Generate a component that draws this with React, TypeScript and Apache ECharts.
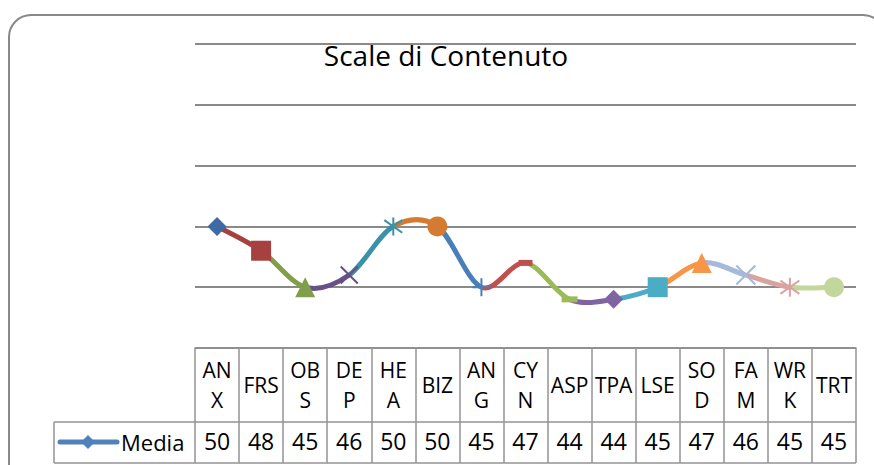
import React, { useEffect, useRef } from 'react';
import * as echarts from 'echarts';

// ---- data ----
const categories = ['ANX', 'FRS', 'OBS', 'DEP', 'HEA', 'BIZ', 'ANG', 'CYN', 'ASP', 'TPA', 'LSE', 'SOD', 'FAM', 'WRK', 'TRT'];
const headerLabels = ['AN\nX', 'FRS', 'OB\nS', 'DE\nP', 'HE\nA', 'BIZ', 'AN\nG', 'CY\nN', 'ASP', 'TPA', 'LSE', 'SO\nD', 'FA\nM', 'WR\nK', 'TRT'];
const media = [50, 48, 45, 46, 50, 50, 45, 47, 44, 44, 45, 47, 46, 45, 45];
const seriesName = 'Media';
const titleText = 'Scale di Contenuto';
const yMin = 40;
const yMax = 65;
const yStep = 5;

// ---- styles ----
const pointColors = [
  '#3E6BA5', '#A5423F', '#819F4A', '#674F88', '#3A91A8', '#D57B31', '#4A7EBB', '#C0504D',
  '#9BBB59', '#8064A2', '#4BACC6', '#F79646', '#A7B9DA', '#D9A3A1', '#C3D69B',
];
const X_PATH = 'path://M0,0L10,10M10,0L0,10';
const STAR_PATH = 'path://M5,0L5,10M0.8,1.5L9.2,8.5M9.2,1.5L0.8,8.5';
const PLUS_PATH = 'path://M5,0L5,10M0,5L10,5';
const markerStyles: { symbol: string; size: number | number[]; stroke?: boolean }[] = [
  { symbol: 'diamond', size: [19, 19] },
  { symbol: 'rect', size: [20, 20] },
  { symbol: 'triangle', size: [20, 20] },
  { symbol: X_PATH, size: [17, 17], stroke: true },
  { symbol: STAR_PATH, size: [18, 18], stroke: true },
  { symbol: 'circle', size: 20 },
  { symbol: PLUS_PATH, size: [18, 18], stroke: true },
  { symbol: 'rect', size: [14, 6] },
  { symbol: 'rect', size: [16, 6] },
  { symbol: 'diamond', size: [19, 19] },
  { symbol: 'rect', size: [20, 20] },
  { symbol: 'triangle', size: [20, 20] },
  { symbol: X_PATH, size: [19, 19], stroke: true },
  { symbol: STAR_PATH, size: [19, 19], stroke: true },
  { symbol: 'circle', size: 20 },
];

const FONT = '"Open Sans", sans-serif';
const GRID_COLOR = '#8a8a8a';
const TABLE_COLOR = '#939393';

export default function App() {
  const ref = useRef<HTMLDivElement>(null);

  useEffect(() => {
    const chart = echarts.init(ref.current!, null, { renderer: 'svg' });
    const n = media.length;

    chart.setOption({
      animation: false,
      backgroundColor: '#ffffff',
      grid: { left: 195, right: 18, top: 44, bottom: 117 },
      xAxis: [
        {
          type: 'category',
          data: headerLabels,
          boundaryGap: true,
          axisLine: { show: true, lineStyle: { color: TABLE_COLOR, width: 1.5 } },
          axisTick: { show: true, length: 115, lineStyle: { color: TABLE_COLOR, width: 1.5 } },
          axisLabel: {
            interval: 0,
            margin: 37,
            verticalAlign: 'middle',
            lineHeight: 30,
            fontSize: 21,
            fontFamily: FONT,
            color: '#000',
          },
          splitLine: { show: false },
        },
        {
          type: 'category',
          position: 'bottom',
          offset: 93,
          data: media.map(String),
          boundaryGap: true,
          axisLine: { show: false },
          axisTick: { show: false },
          axisLabel: {
            interval: 0,
            margin: 0,
            verticalAlign: 'middle',
            fontSize: 23,
            fontFamily: FONT,
            color: '#000',
          },
          splitLine: { show: false },
        },
      ],
      yAxis: {
        type: 'value',
        min: yMin,
        max: yMax,
        interval: yStep,
        axisLine: { show: false },
        axisTick: { show: false },
        axisLabel: { show: false },
        splitLine: { show: true, lineStyle: { color: GRID_COLOR, width: 2 } },
      },
      series: [
        {
          type: 'custom',
          name: seriesName,
          xAxisIndex: 0,
          yAxisIndex: 0,
          encode: { x: 0, y: 1 },
          data: media.map((v, i) => [i, v]),
          z: 2,
          renderItem: (params: any, api: any) => {
            const i = params.dataIndex;
            if (i === 0) return null;
            const pt = (k: number) => {
              const c = Math.max(0, Math.min(n - 1, k));
              return api.coord([c, media[c]]);
            };
            const p0 = pt(i - 2);
            const p1 = pt(i - 1);
            const p2 = pt(i);
            const p3 = pt(i + 1);
            return {
              type: 'bezierCurve',
              shape: {
                x1: p1[0], y1: p1[1], x2: p2[0], y2: p2[1],
                cpx1: p1[0] + (p2[0] - p0[0]) / 6,
                cpy1: p1[1] + (p2[1] - p0[1]) / 6,
                cpx2: p2[0] - (p3[0] - p1[0]) / 6,
                cpy2: p2[1] - (p3[1] - p1[1]) / 6,
              },
              style: { stroke: pointColors[i], lineWidth: 5, fill: 'none', lineCap: 'butt' },
            };
          },
        },
        {
          type: 'scatter',
          name: seriesName,
          xAxisIndex: 0,
          yAxisIndex: 0,
          z: 3,
          data: media.map((v, i) => {
            const m = markerStyles[i];
            return {
              value: [i, v],
              symbol: m.symbol,
              symbolSize: m.size,
              itemStyle: {
                color: pointColors[i],
                borderColor: pointColors[i],
                borderWidth: m.stroke ? 2 : 0,
                opacity: 1,
              },
            };
          }),
        },
      ],
      graphic: [
        {
          type: 'rect',
          shape: { x: 9, y: 15, width: 876, height: 490, r: 22 },
          style: { fill: 'none', stroke: '#888888', lineWidth: 2 },
          z: 0,
        },
        {
          type: 'text',
          x: 446,
          y: 55,
          style: { text: titleText, fontSize: 28, fontFamily: FONT, fill: '#000', align: 'center', verticalAlign: 'middle' },
        },
        { type: 'line', shape: { x1: 54, y1: 422, x2: 856, y2: 422 }, style: { stroke: TABLE_COLOR, lineWidth: 1.5 } },
        { type: 'line', shape: { x1: 54, y1: 463, x2: 856, y2: 463 }, style: { stroke: TABLE_COLOR, lineWidth: 1.5 } },
        { type: 'line', shape: { x1: 54, y1: 422, x2: 54, y2: 463 }, style: { stroke: TABLE_COLOR, lineWidth: 1.5 } },
        { type: 'line', shape: { x1: 60, y1: 442, x2: 117, y2: 442 }, style: { stroke: '#4F81BD', lineWidth: 5, lineCap: 'round' } },
        { type: 'polygon', shape: { points: [[88, 435], [95, 442], [88, 449], [81, 442]] }, style: { fill: '#4F81BD' } },
        {
          type: 'text',
          x: 121,
          y: 442,
          style: { text: seriesName, fontSize: 22, fontFamily: FONT, fill: '#000', align: 'left', verticalAlign: 'middle' },
        },
      ],
    });

    return () => chart.dispose();
  }, []);

  return <div ref={ref} style={{ position: 'fixed', left: 0, top: 0, width: 874, height: 465 }} />;
}
